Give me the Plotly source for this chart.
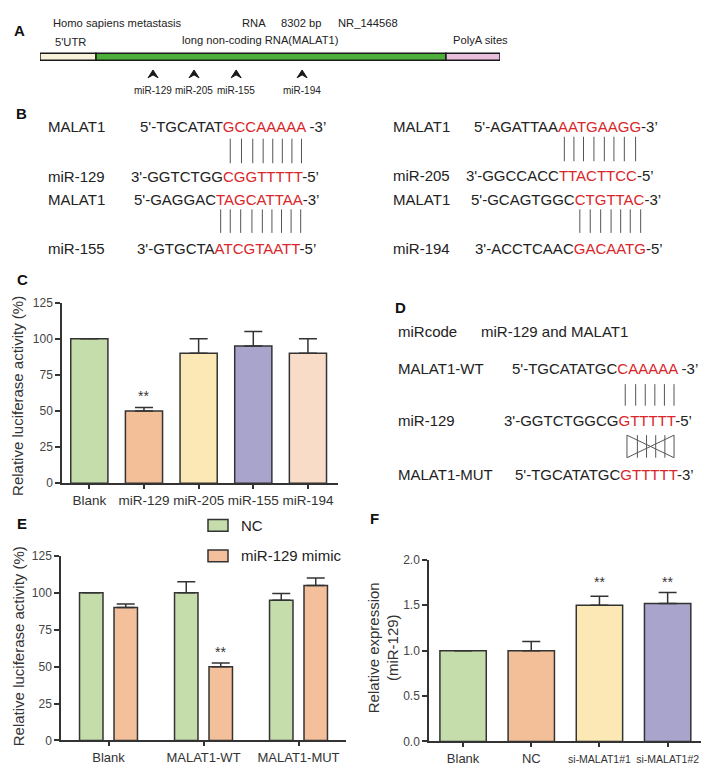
import plotly.graph_objects as go

W, H = 709, 765
FONT = "Liberation Sans, Arial, sans-serif"
NARROW = "Liberation Sans, Arial, sans-serif"
RED = "#d9262a"
INK = "#222222"
AX = "#333333"


def X(px):
    return px / W


def Y(py):
    return 1 - py / H


# ---------------- data ----------------
# Panel A: MALAT1 transcript schematic (bp)
segment_names = ["5'UTR", "MALAT1", "PolyA sites"]
segment_start = [0, 1011, 7327]
segment_end = [1011, 7327, 8302]
segment_colors = ["#f7f3da", "#4dae3c", "#eabfdd"]
site_names = ["miR-129", "miR-205", "miR-155", "miR-194"]
site_pos = [2040, 2780, 3540, 4730]

# Panel B: binding sequences (black part, red part, tail)
b_pairs = [
    ("MALAT1", ("5'-TGCATAT", "GCCAAAAA", " -3’"), "miR-129", ("3'-GGTCTGG", "CGGTTTTT", "-5’")),
    ("MALAT1", ("5'-GAGGAC", "TAGCATTAA", "-3’"), "miR-155", ("3'-GTGCTA", "ATCGTAATT", "-5’")),
    ("MALAT1", ("5'-AGATTAA", "AATGAAGG", "-3’"), "miR-205", ("3'-GGCCACC", "TTACTTCC", "-5’")),
    ("MALAT1", ("5'-GCAGTGGC", "CTGTTAC", "-3’"), "miR-194", ("3'-ACCTCAAC", "GACAATG", "-5’")),
]

# Panel C
c_categories = ["Blank", "miR-129", "miR-205", "miR-155", "miR-194"]
c_values = [100, 50, 90, 95, 90]
c_errors = [0, 2.5, 10, 10, 10]
c_sig = ["", "**", "", "", ""]
c_colors = ["#c5dcab", "#f2bf99", "#fbe8b4", "#a8a4cb", "#f9dcc8"]

# Panel D
d_rows = [
    ("MALAT1-WT", ("5'-TGCATATGC", "CAAAAA", " -3’")),
    ("miR-129", ("3'-GGTCTGGCG", "GTTTTT", "-5’")),
    ("MALAT1-MUT", ("5'-TGCATATGC", "GTTTTT", "-3’")),
]

# Panel E
e_categories = ["Blank", "MALAT1-WT", "MALAT1-MUT"]
e_series = ["NC", "miR-129 mimic"]
e_nc = [100, 100, 95]
e_nc_err = [0, 7.5, 4.5]
e_mimic = [90, 50, 105]
e_mimic_err = [2.5, 2.5, 5]
e_sig_mimic = ["", "**", ""]
e_colors = ["#c5dcab", "#f4c09b"]

# Panel F
f_categories = ["Blank", "NC", "si-MALAT1#1", "si-MALAT1#2"]
f_values = [1.0, 1.0, 1.5, 1.52]
f_errors = [0, 0.1, 0.1, 0.12]
f_sig = ["", "", "**", "**"]
f_colors = ["#c5dcab", "#f2bf99", "#fbe8b4", "#a8a4cb"]

# Arial / Liberation Sans advance widths (per 1000 em)
CW = {"5": 556, "3": 556, "'": 191, "’": 222, "-": 333, " ": 278,
      "A": 667, "C": 722, "G": 778, "T": 611}


def tw(s, size):
    return sum(CW.get(ch, 600) for ch in s) * size / 1000.0


fig = go.Figure()
annotations = []
shapes = []


def text(x, y, s, size=15, color=INK, anchor="left", font=FONT, bold=False, angle=0, xref="paper", yref="paper"):
    if bold:
        s = "<b>" + s + "</b>"
    annotations.append(dict(
        x=x, y=y, xref=xref, yref=yref, text=s, showarrow=False,
        xanchor=anchor, yanchor="middle", textangle=angle,
        borderpad=0, borderwidth=0,
        font=dict(size=size, color=color, family=font)))


def seq_text(x, y, parts, size=15):
    s = parts[0] + "<span style='color:%s'>%s</span>" % (RED, parts[1]) + parts[2]
    text(X(x), Y(y), s, size=size)


def red_centers(x, parts, size=15):
    start = x + tw(parts[0], size)
    out = []
    for ch in parts[1]:
        w = tw(ch, size)
        out.append(start + w / 2)
        start += w
    return out


def vline(x, y0, y1, color="#555555", width=1):
    shapes.append(dict(type="line", xref="paper", yref="paper",
                       x0=X(x), x1=X(x), y0=Y(y0), y1=Y(y1),
                       line=dict(color=color, width=width)))


# ---------------- Panel A ----------------
fig.add_trace(go.Bar(
    x=[e - s for s, e in zip(segment_start, segment_end)], base=segment_start,
    y=[42.5] * len(segment_start), orientation="h", width=7,
    marker=dict(color=segment_colors, line=dict(color="#1a1a1a", width=1.5)),
    xaxis="x4", yaxis="y4", showlegend=False, hoverinfo="skip"))

d_bp = 5 * 8302 / 460.0
for name, p in zip(site_names, site_pos):
    shapes.append(dict(type="path", xref="x4", yref="y4",
                       path="M %f,64 L %f,56 L %f,64 L %f,61 Z" % (p - d_bp, p, p + d_bp, p),
                       fillcolor="#1a1a1a", line=dict(color="#1a1a1a", width=1)))
    text(p, 77, name, size=10, font=NARROW, anchor="center", xref="x4", yref="y4")

AS = 11.2
text(X(45), Y(8), "Homo sapiens metastasis", size=AS, font=NARROW)
text(X(246), Y(8), "RNA", size=AS, font=NARROW, anchor="center")
text(X(293), Y(8), "8302 bp", size=AS, font=NARROW, anchor="center")
text(X(360), Y(8), "NR_144568", size=AS, font=NARROW, anchor="center")
text(X(47), Y(28), "5'UTR", size=AS, font=NARROW)
text(X(252), Y(25), "long non-coding RNA(MALAT1)", size=AS, font=NARROW, anchor="center")
text(X(472), Y(25), "PolyA sites", size=AS, font=NARROW, anchor="center")

# ---------------- Panel B ----------------
b_layout = [
    # label_x, seq_x_top, seq_x_bottom, y_top, y_bottom, line_y0, line_y1
    (40, 132, 123, 114, 165, 126, 151),
    (40, 126, 129, 188, 238, 198, 222),
    (385, 466, 458, 114, 164, 124, 149),
    (385, 463, 467, 188, 238, 198, 222),
]
for (lt, st, lb, sb), (lx, xt, xb, yt, yb, ly0, ly1) in zip(b_pairs, b_layout):
    text(X(lx), Y(yt), lt)
    text(X(lx), Y(yb), lb)
    seq_text(xt, yt, st)
    seq_text(xb, yb, sb)
    for a, b in zip(red_centers(xt, st), red_centers(xb, sb)):
        vline((a + b) / 2, ly0, ly1)

# ---------------- Panel D ----------------
text(X(390), Y(322), "miRcode")
text(X(473), Y(322), "miR-129 and MALAT1")
d_layout = [(504, 360), (496, 413), (507, 468)]
for (lab, parts), (sx, sy) in zip(d_rows, d_layout):
    text(X(390), Y(sy), lab)
    seq_text(sx, sy, parts)
c_top = red_centers(d_layout[0][0], d_rows[0][1])
c_mid = red_centers(d_layout[1][0], d_rows[1][1])
c_bot = red_centers(d_layout[2][0], d_rows[2][1])
for a, b in zip(c_top, c_mid):
    vline((a + b) / 2, 376, 398)
xs = [(a + b) / 2 for a, b in zip(c_mid, c_bot)]
for xx in xs:
    vline(xx, 428, 451)
for (x0, y0, x1, y1) in [(xs[0], 428, xs[-1], 451), (xs[-1], 428, xs[0], 451)]:
    shapes.append(dict(type="line", xref="paper", yref="paper",
                       x0=X(x0), x1=X(x1), y0=Y(y0), y1=Y(y1),
                       line=dict(color="#555555", width=1)))

# ---------------- Panel C ----------------
err_style = dict(type="data", symmetric=False, width=9, thickness=1.5, color=AX)
fig.add_trace(go.Bar(
    x=c_categories, y=c_values, width=0.68,
    marker=dict(color=c_colors, line=dict(color=AX, width=1.5)),
    error_y=dict(array=c_errors, arrayminus=[0] * len(c_errors), **err_style),
    xaxis="x", yaxis="y", showlegend=False))
for cat, v, e, s in zip(c_categories, c_values, c_errors, c_sig):
    if s:
        annotations.append(dict(x=cat, y=v + e, xref="x", yref="y", text=s, showarrow=False,
                                yanchor="bottom", yshift=1, font=dict(size=14, color=AX, family=FONT)))

# ---------------- Panel E ----------------
fig.add_trace(go.Bar(
    x=e_categories, y=e_nc, width=0.247, offset=-0.305, name=e_series[0],
    marker=dict(color=e_colors[0], line=dict(color=AX, width=1.5)),
    error_y=dict(array=e_nc_err, arrayminus=[0] * 3, **err_style),
    xaxis="x2", yaxis="y2", showlegend=False))
fig.add_trace(go.Bar(
    x=e_categories, y=e_mimic, width=0.247, offset=0.058, name=e_series[1],
    marker=dict(color=e_colors[1], line=dict(color=AX, width=1.5)),
    error_y=dict(array=e_mimic_err, arrayminus=[0] * 3, **err_style),
    xaxis="x2", yaxis="y2", showlegend=False))
for i, (v, e, s) in enumerate(zip(e_mimic, e_mimic_err, e_sig_mimic)):
    if s:
        annotations.append(dict(x=i + 0.058 + 0.247 / 2, y=v + e, xref="x2", yref="y2", text=s,
                                showarrow=False, yanchor="bottom", yshift=1,
                                font=dict(size=14, color=AX, family=FONT)))
# legend for E
for k, (name, col) in enumerate(zip(e_series, e_colors)):
    yc = 520 + 31 * k
    shapes.append(dict(type="rect", xref="paper", yref="paper",
                       x0=X(200), x1=X(220), y0=Y(yc + 6), y1=Y(yc - 6),
                       fillcolor=col, line=dict(color=AX, width=1.5)))
    text(X(233), Y(yc), name, size=15)

# ---------------- Panel F ----------------
fig.add_trace(go.Bar(
    x=f_categories, y=f_values, width=0.68,
    marker=dict(color=f_colors, line=dict(color=AX, width=1.5)),
    error_y=dict(array=f_errors, arrayminus=[0] * len(f_errors), **err_style),
    xaxis="x3", yaxis="y3", showlegend=False))
for cat, v, e, s in zip(f_categories, f_values, f_errors, f_sig):
    if s:
        annotations.append(dict(x=cat, y=1.64, xref="x3", yref="y3", text=s, showarrow=False,
                                yanchor="bottom", yshift=1, font=dict(size=14, color=AX, family=FONT)))

# axis titles
text(X(10), Y(388), "Relative luciferase activity (%)", size=15, anchor="center", angle=-90, color=AX)
text(X(10), Y(643), "Relative luciferase activity (%)", size=15, anchor="center", angle=-90, color=AX)
text(X(375), Y(644), "Relative expression<br>(miR-129)", size=15, anchor="center", angle=-90, color=AX)

# panel letters
for lab, (lx, ly) in zip("ABCDEF", [(11, 16), (13, 100), (15, 269), (392, 298), (14, 518), (366, 513)]):
    text(X(lx), Y(ly), lab, size=15, anchor="center", bold=True, color="#111111")


def xax(dom, rng, ticksize=13.5):
    return dict(domain=dom, range=rng, type="category", showline=True, linecolor=AX, linewidth=1.5,
                ticks="outside", ticklen=4, tickwidth=1.5, tickcolor=AX, tickangle=0,
                ticklabeloverflow="allow",
                tickfont=dict(size=ticksize, color=AX, family=FONT),
                showgrid=False, zeroline=False, fixedrange=True)


def yax(dom, rng, tickvals, ticktext, anchor):
    return dict(domain=dom, range=rng, tickvals=tickvals, ticktext=ticktext, anchor=anchor,
                showline=True, linecolor=AX, linewidth=1.5, ticks="outside", ticklen=5,
                tickwidth=1.5, tickcolor=AX, tickfont=dict(size=12, color="#444444", family=FONT),
                showgrid=False, zeroline=False, fixedrange=True)


lum_ticks = [0, 25, 50, 75, 100, 125]
f_ticks = [0, 0.5, 1.0, 1.5, 2.0]

xa3 = xax([X(421), X(706)], [-0.5, 3.68], ticksize=13)
xa3["tickvals"] = f_categories
xa3["ticktext"] = [c if not c.startswith("si") else "<span style='font-size:10.5px'>%s</span>" % c
                   for c in f_categories]

fig.update_layout(
    width=W, height=765, margin=dict(l=0, r=0, t=0, b=0),
    paper_bgcolor="white", plot_bgcolor="rgba(0,0,0,0)",
    barmode="overlay", showlegend=False,
    xaxis=dict(xax([X(54), X(330)], [-0.5, 4.55]), anchor="y"),
    yaxis=yax([Y(477), Y(293)], [0, 125], lum_ticks, [str(t) for t in lum_ticks], "x"),
    xaxis2=dict(xax([X(53), X(338)], [-0.5, 2.5], ticksize=13), anchor="y2"),
    yaxis2=yax([Y(739), Y(551)], [0, 125], lum_ticks, [str(t) for t in lum_ticks], "x2"),
    xaxis3=dict(xa3, anchor="y3"),
    yaxis3=yax([Y(740), Y(555)], [0, 2], f_ticks, ["%.1f" % t for t in f_ticks], "x3"),
    xaxis4=dict(domain=[X(32), X(492)], range=[0, 8302], visible=False, anchor="y4", fixedrange=True),
    yaxis4=dict(domain=[Y(95), 1], range=[95, 0], visible=False, anchor="x4", fixedrange=True),
    annotations=annotations, shapes=shapes,
)

fig.write_html("out.html")
